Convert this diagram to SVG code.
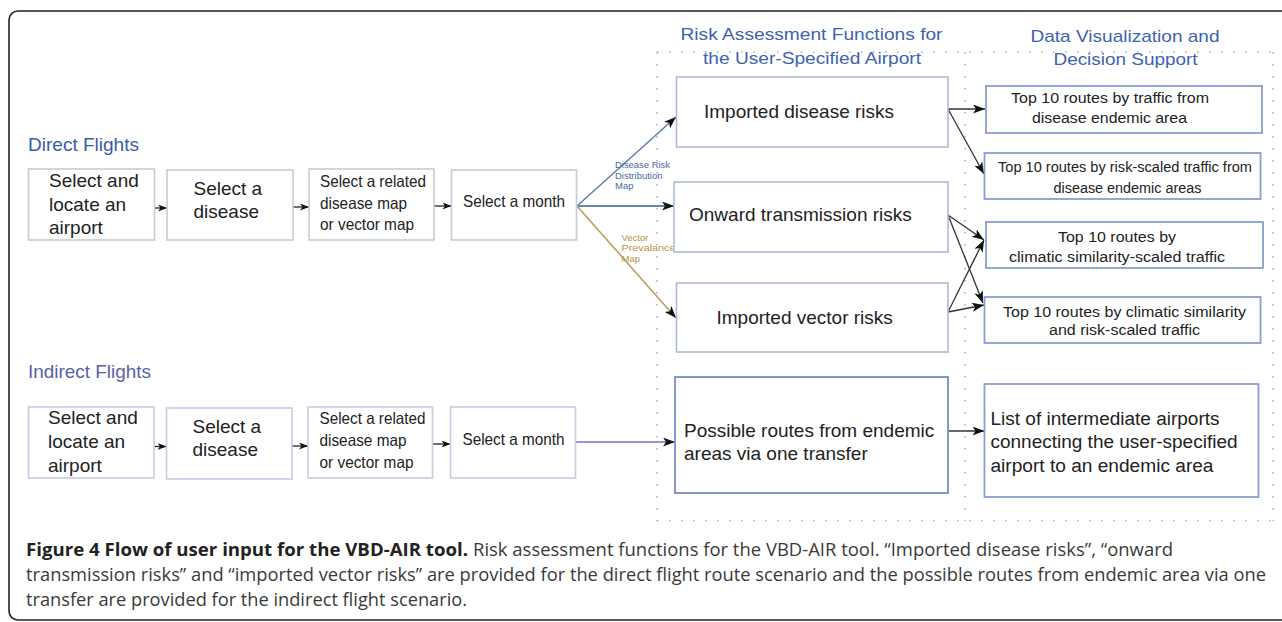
<svg xmlns="http://www.w3.org/2000/svg" width="1282" height="622" viewBox="0 0 1282 622">
<defs>
<style>
.frame{fill:none;stroke:#222;stroke-width:1.6}
.dot{fill:none;stroke:#a9b3c0;stroke-width:1.6;stroke-dasharray:1.6 10.4}
.lb{fill:#fff;stroke:#c3ccd8;stroke-width:1.6}
.lb2{fill:#fff;stroke:#cac9e2;stroke-width:1.6}
.mb{fill:#fff;stroke:#aebbd6;stroke-width:1.6}
.mb2{fill:#fff;stroke:#8497c8;stroke-width:2}
.rb{fill:#fff;stroke:#8a9ed0;stroke-width:1.8}
.t{font-family:"Liberation Sans",Arial,sans-serif;fill:#222}
.t19{font-size:19px}
.t16{font-size:16.5px}
.t15{font-size:15.5px}
.t18{font-size:18px}
.hd{font-family:"Liberation Sans",Arial,sans-serif;font-size:17px;fill:#3d63b0}
.sec{font-family:"Liberation Sans",Arial,sans-serif;font-size:18.5px}
.lbl{font-family:"Liberation Sans",Arial,sans-serif;font-size:9.5px}
.cap{font-family:"Open Sans","Noto Sans",sans-serif;font-size:18px;fill:#3a3a3a}
.capb{font-family:"Open Sans","Noto Sans",sans-serif;font-size:18px;font-weight:bold;fill:#222}
.c{fill:none;stroke:#333;stroke-width:1.3}
.cs{fill:none;stroke:#222;stroke-width:1.3}
</style>
<marker id="ah" markerUnits="userSpaceOnUse" markerWidth="13" markerHeight="10" refX="12" refY="4.5" orient="auto">
<path d="M0,0 L12,4.5 L0,9 L3,4.5 Z" fill="#111"/>
</marker>
<marker id="as" markerUnits="userSpaceOnUse" markerWidth="10" markerHeight="8" refX="9" refY="3.5" orient="auto">
<path d="M0,0 L9,3.5 L0,7 L2.5,3.5 Z" fill="#111"/>
</marker>
</defs>
<rect width="1282" height="622" fill="#fff"/>
<rect class="frame" x="9" y="11" width="1300" height="609" rx="9"/>

<g id="containers">
<path class="dot" d="M657,52 H1273 M657,521 H1273 M657,52 V521 M965,52 V521 M1273,52 V521"/>
</g>

<g id="headers">
<text class="hd" x="680.5" y="40" textLength="262" lengthAdjust="spacingAndGlyphs">Risk Assessment Functions for</text>
<text class="hd" x="703" y="64" textLength="218" lengthAdjust="spacingAndGlyphs">the User-Specified Airport</text>
<text class="hd" x="1030.5" y="42" textLength="189" lengthAdjust="spacingAndGlyphs">Data Visualization and</text>
<text class="hd" x="1053.5" y="65" textLength="144" lengthAdjust="spacingAndGlyphs">Decision Support</text>
<text class="sec" x="28" y="151" fill="#3b5ba5" textLength="111" lengthAdjust="spacingAndGlyphs">Direct Flights</text>
<text class="sec" x="28" y="378" fill="#5b5ea8" textLength="123" lengthAdjust="spacingAndGlyphs">Indirect Flights</text>
</g>

<g id="connectors">
<path class="cs" d="M154.5,208 H167" marker-end="url(#as)"/>
<path class="cs" d="M293,207 H309" marker-end="url(#as)"/>
<path class="cs" d="M434,206 H451.5" marker-end="url(#as)"/>
<path class="cs" d="M154,446.5 H166.5" marker-end="url(#as)"/>
<path class="cs" d="M292,446 H308" marker-end="url(#as)"/>
<path class="cs" d="M432.5,444 H450.5" marker-end="url(#as)"/>
<path d="M577,206 L676,117" fill="none" stroke="#5d7fa8" stroke-width="1.5" marker-end="url(#ah)"/>
<path d="M577,206 H674" fill="none" stroke="#6686ae" stroke-width="1.8" marker-end="url(#ah)"/>
<path d="M577,206 L676,318" fill="none" stroke="#b99a5c" stroke-width="1.5" marker-end="url(#ah)"/>
<path d="M575.5,442 H675" fill="none" stroke="#9a95cc" stroke-width="2" marker-end="url(#ah)"/>
<path class="c" d="M948,109 H985" marker-end="url(#ah)"/>
<path class="c" d="M948,109 L984,174" marker-end="url(#ah)"/>
<path class="c" d="M948,215 L984,240" marker-end="url(#ah)"/>
<path class="c" d="M948,215 L983,303" marker-end="url(#ah)"/>
<path class="c" d="M948,312 L984,240" marker-end="url(#ah)"/>
<path class="c" d="M948,312 L984,305" marker-end="url(#ah)"/>
<path class="c" d="M948,431 H984.5" marker-end="url(#ah)"/>
<text class="lbl" fill="#4a6a9c"><tspan x="615" y="168" textLength="55" lengthAdjust="spacingAndGlyphs">Disease Risk</tspan><tspan x="615" y="178.5">Distribution</tspan><tspan x="615" y="189">Map</tspan></text>
<text class="lbl" fill="#b8944a"><tspan x="621.5" y="240.5">Vector</tspan><tspan x="621.5" y="251" textLength="54" lengthAdjust="spacingAndGlyphs">Prevalance</tspan><tspan x="621.5" y="261.5">Map</tspan></text>
</g>

<g id="d1"><rect class="lb" x="28.5" y="169" width="126" height="71"/>
<text class="t t19"><tspan x="49" y="187">Select and</tspan><tspan x="49" y="211">locate an</tspan><tspan x="49" y="234">airport</tspan></text></g>
<g id="d2"><rect class="lb" x="167" y="170" width="126" height="70"/>
<text class="t t19"><tspan x="193.5" y="195">Select a</tspan><tspan x="193.5" y="218">disease</tspan></text></g>
<g id="d3"><rect class="lb" x="309" y="169" width="125" height="71"/>
<text class="t t16" x="320" y="187" textLength="106" lengthAdjust="spacingAndGlyphs">Select a related</text>
<text class="t t16" x="320" y="208.5" textLength="87" lengthAdjust="spacingAndGlyphs">disease map</text>
<text class="t t16" x="320" y="230" textLength="94" lengthAdjust="spacingAndGlyphs">or vector map</text></g>
<g id="d4"><rect class="lb" x="451.5" y="170" width="125" height="70"/>
<text class="t t16" x="463" y="207" textLength="102" lengthAdjust="spacingAndGlyphs">Select a month</text></g>

<g id="i1"><rect class="lb2" x="28.5" y="407" width="125.5" height="71"/>
<text class="t t19"><tspan x="48" y="424">Select and</tspan><tspan x="48" y="448">locate an</tspan><tspan x="48" y="472">airport</tspan></text></g>
<g id="i2"><rect class="lb2" x="166.5" y="408" width="125.5" height="71"/>
<text class="t t19"><tspan x="192.5" y="433">Select a</tspan><tspan x="192.5" y="456">disease</tspan></text></g>
<g id="i3"><rect class="lb2" x="308" y="407" width="124.5" height="71"/>
<text class="t t16" x="319.5" y="424" textLength="106" lengthAdjust="spacingAndGlyphs">Select a related</text>
<text class="t t16" x="319.5" y="446" textLength="87" lengthAdjust="spacingAndGlyphs">disease map</text>
<text class="t t16" x="319.5" y="468" textLength="94" lengthAdjust="spacingAndGlyphs">or vector map</text></g>
<g id="i4"><rect class="lb2" x="450.5" y="407" width="125" height="71"/>
<text class="t t16" x="462.5" y="445" textLength="102" lengthAdjust="spacingAndGlyphs">Select a month</text></g>

<g id="m1"><rect class="mb" x="676.5" y="77" width="271.5" height="70"/>
<text class="t t19" x="704" y="118">Imported disease risks</text></g>
<g id="m2"><rect class="mb" x="674" y="182" width="274" height="70"/>
<text class="t t19" x="689" y="221">Onward transmission risks</text></g>
<g id="m3"><rect class="mb" x="676.5" y="283" width="271.5" height="69"/>
<text class="t t19" x="716.5" y="324">Imported vector risks</text></g>
<g id="m4"><rect class="mb2" x="675" y="377" width="273" height="116"/>
<text class="t t19"><tspan x="684" y="437">Possible routes from endemic</tspan><tspan x="684" y="460">areas via one transfer</tspan></text></g>

<g id="r1"><rect class="rb" x="986" y="86" width="276" height="47"/>
<text class="t t15" x="1011" y="103" textLength="198" lengthAdjust="spacingAndGlyphs">Top 10 routes by traffic from</text>
<text class="t t15" x="1032" y="123" textLength="155" lengthAdjust="spacingAndGlyphs">disease endemic area</text></g>
<g id="r2"><rect class="rb" x="984.5" y="153" width="276" height="46"/>
<text class="t t15" x="998" y="172" textLength="254" lengthAdjust="spacingAndGlyphs">Top 10 routes by risk-scaled traffic from</text>
<text class="t t15" x="1053.5" y="193" textLength="148" lengthAdjust="spacingAndGlyphs">disease endemic areas</text></g>
<g id="r3"><rect class="rb" x="986" y="222" width="277" height="46"/>
<text class="t t15" x="1058" y="242" textLength="118" lengthAdjust="spacingAndGlyphs">Top 10 routes by</text>
<text class="t t15" x="1009" y="262" textLength="216" lengthAdjust="spacingAndGlyphs">climatic similarity-scaled traffic</text></g>
<g id="r4"><rect class="rb" x="984.5" y="297" width="276" height="46"/>
<text class="t t15" x="1003" y="317" textLength="243" lengthAdjust="spacingAndGlyphs">Top 10 routes by climatic similarity</text>
<text class="t t15" x="1049" y="335" textLength="151" lengthAdjust="spacingAndGlyphs">and risk-scaled traffic</text></g>
<g id="r5"><rect class="rb" x="984.5" y="384" width="274" height="113"/>
<text class="t t18" x="990.5" y="425" textLength="229" lengthAdjust="spacingAndGlyphs">List of intermediate airports</text>
<text class="t t18" x="990.5" y="448" textLength="247" lengthAdjust="spacingAndGlyphs">connecting the user-specified</text>
<text class="t t18" x="990.5" y="472" textLength="223" lengthAdjust="spacingAndGlyphs">airport to an endemic area</text></g>

<g id="caption">
<text class="capb" x="26" y="556" textLength="442" lengthAdjust="spacingAndGlyphs">Figure 4 Flow of user input for the VBD-AIR tool.</text>
<text class="cap" x="473" y="556" textLength="700" lengthAdjust="spacingAndGlyphs">Risk assessment functions for the VBD-AIR tool. “Imported disease risks”, “onward</text>
<text class="cap" x="26" y="581" textLength="1240" lengthAdjust="spacingAndGlyphs">transmission risks” and “imported vector risks” are provided for the direct flight route scenario and the possible routes from endemic area via one</text>
<text class="cap" x="26" y="606" textLength="441" lengthAdjust="spacingAndGlyphs">transfer are provided for the indirect flight scenario.</text>
</g>
</svg>
